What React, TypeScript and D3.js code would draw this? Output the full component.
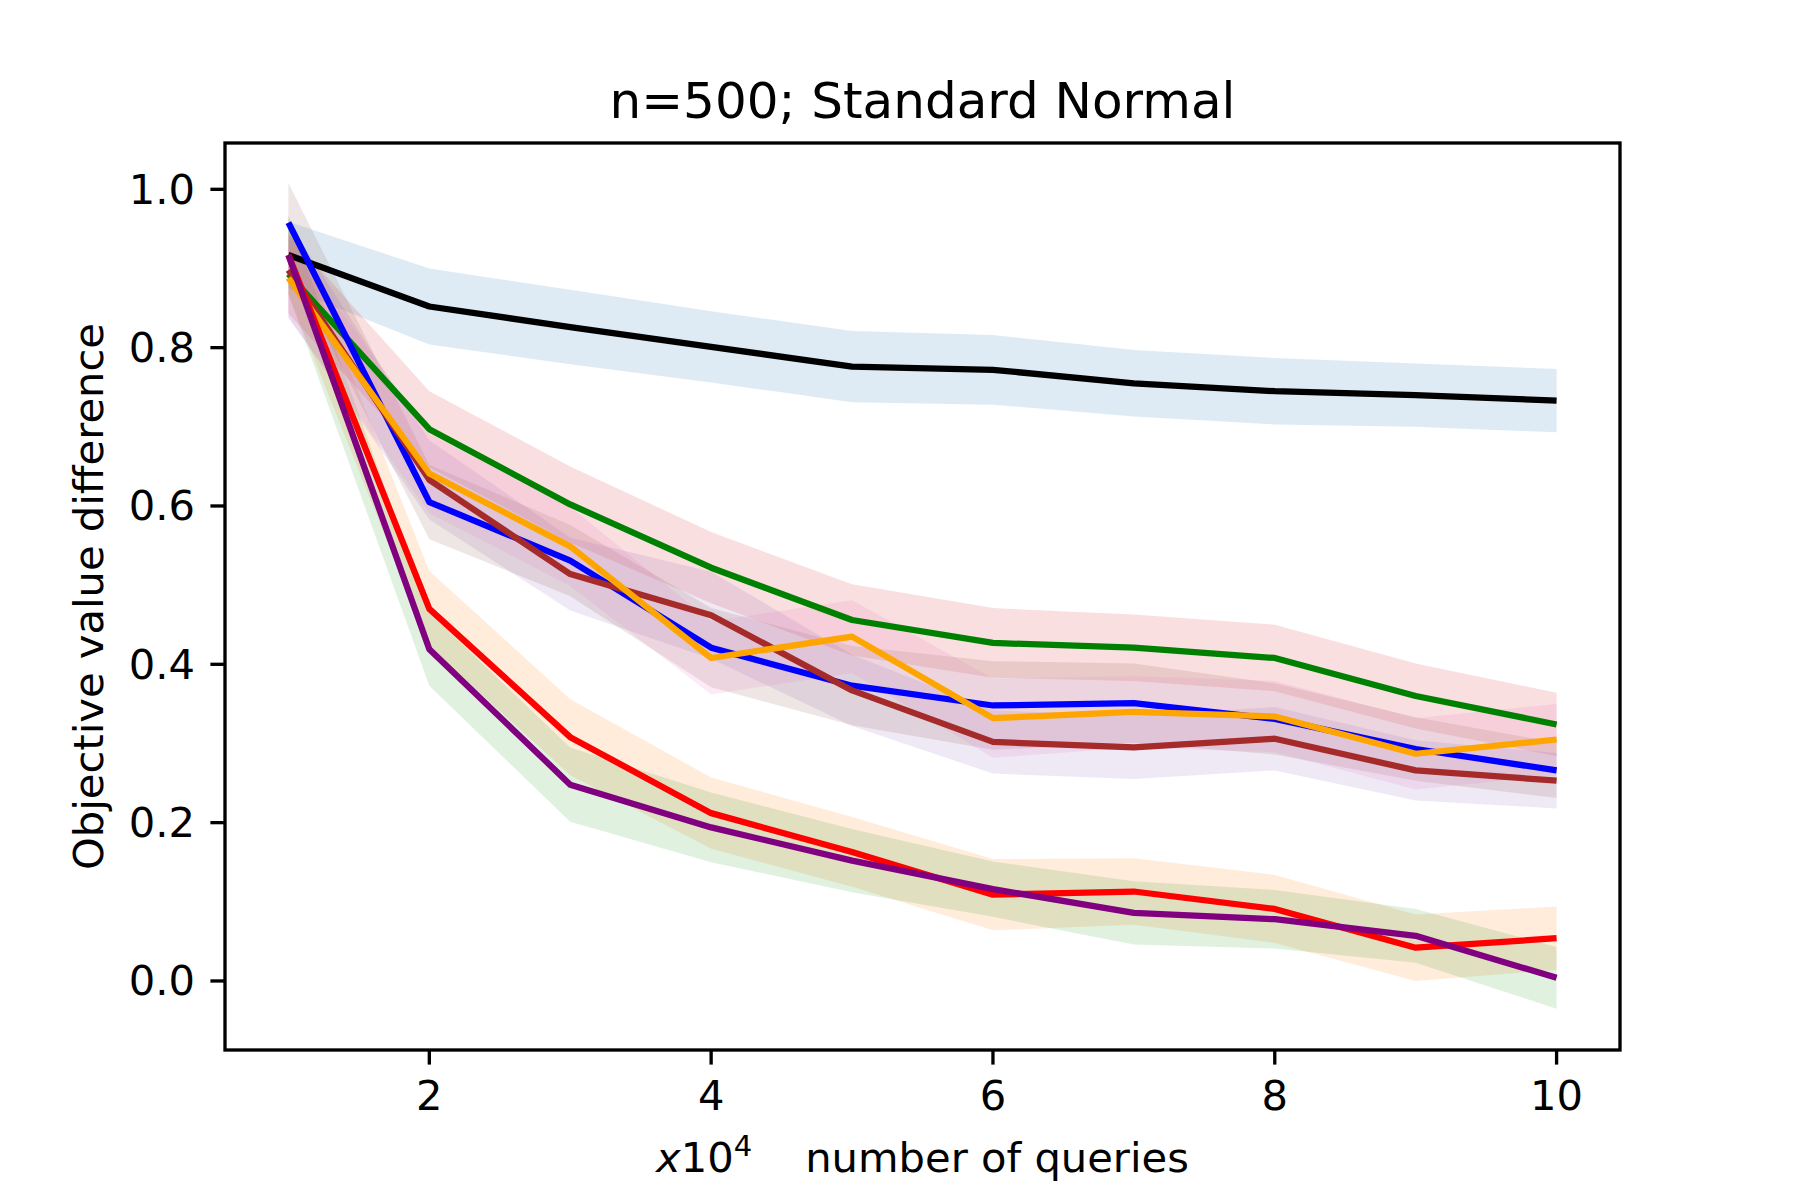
import React from "react"
import * as d3 from "d3"

const queries = [1, 2, 3, 4, 5, 6, 7, 8, 9, 10]

const blackMean = [0.917, 0.852, 0.826, 0.801, 0.776, 0.772, 0.755, 0.745, 0.74, 0.733]
const blackErr = [0.042, 0.048, 0.047, 0.045, 0.045, 0.044, 0.042, 0.042, 0.04, 0.04]
const greenMean = [0.893, 0.697, 0.602, 0.522, 0.456, 0.427, 0.421, 0.408, 0.36, 0.324]
const greenErr = [0.05, 0.048, 0.048, 0.045, 0.045, 0.044, 0.042, 0.042, 0.041, 0.04]
const blueMean = [0.958, 0.605, 0.531, 0.421, 0.373, 0.348, 0.351, 0.331, 0.293, 0.266]
const blueErr = [0.05, 0.047, 0.045, 0.05, 0.05, 0.056, 0.05, 0.045, 0.04, 0.035]
const brownMean = [0.898, 0.633, 0.514, 0.462, 0.367, 0.302, 0.295, 0.306, 0.266, 0.253]
const brownErr = [0.06, 0.05, 0.046, 0.055, 0.045, 0.04, 0.04, 0.04, 0.038, 0.035]
const orangeMean = [0.888, 0.641, 0.549, 0.408, 0.435, 0.332, 0.34, 0.334, 0.287, 0.305]
const orangeErr = [0.05, 0.05, 0.05, 0.046, 0.046, 0.05, 0.045, 0.045, 0.045, 0.045]
const redMean = [0.917, 0.47, 0.308, 0.212, 0.163, 0.109, 0.113, 0.091, 0.042, 0.054]
const redErr = [0.05, 0.048, 0.048, 0.045, 0.044, 0.045, 0.042, 0.043, 0.042, 0.04]
const purpleMean = [0.917, 0.419, 0.248, 0.194, 0.152, 0.116, 0.086, 0.078, 0.057, 0.004]
const purpleErr = [0.05, 0.046, 0.047, 0.044, 0.04, 0.035, 0.04, 0.037, 0.034, 0.039]

const xTicks = [2, 4, 6, 8, 10]
const yTicks = [0, 0.2, 0.4, 0.6, 0.8, 1.0]

type Series = { mean: number[]; err: number[]; line: string; band: string }

// drawing order matters: later lines sit on top
const series: Series[] = [
  { mean: blackMean, err: blackErr, line: "#000000", band: "#1f77b4" },
  { mean: redMean, err: redErr, line: "#ff0000", band: "#ff7f0e" },
  { mean: purpleMean, err: purpleErr, line: "#800080", band: "#2ca02c" },
  { mean: greenMean, err: greenErr, line: "#008000", band: "#d62728" },
  { mean: brownMean, err: brownErr, line: "#a52a2a", band: "#9467bd" },
  { mean: blueMean, err: blueErr, line: "#0000ff", band: "#8c564b" },
  { mean: orangeMean, err: orangeErr, line: "#ffa500", band: "#e377c2" },
]
const lineOrder = [0, 3, 5, 4, 6, 1, 2]

const W = 1800
const H = 1200
const m = { left: 225, right: 1620, top: 143, bottom: 1050 }
const font = "'DejaVu Sans', sans-serif"
const tickFs = 41.67
const sw = 3.33

export default function App() {
  const x = d3.scaleLinear().domain([0.55, 10.45]).range([m.left, m.right])
  const y = d3.scaleLinear().domain([-0.0872, 1.0585]).range([m.bottom, m.top])

  const area = (s: Series) =>
    d3
      .area<number>()
      .x((_, i) => x(queries[i]))
      .y0((d, i) => y(d - s.err[i]))
      .y1((d, i) => y(d + s.err[i]))(s.mean) || ""
  const line = d3
    .line<number>()
    .x((_, i) => x(queries[i]))
    .y((d) => y(d))

  const cx = (m.left + m.right) / 2
  const cy = (m.top + m.bottom) / 2

  return (
    <svg
      width={W}
      height={H}
      style={{ position: "fixed", left: 0, top: 0, background: "#fff" }}
      fontFamily={font}
    >
      <rect x={0} y={0} width={W} height={H} fill="#fff" />
      <defs>
        <clipPath id="plot">
          <rect x={m.left} y={m.top} width={m.right - m.left} height={m.bottom - m.top} />
        </clipPath>
      </defs>
      <g clipPath="url(#plot)">
        {series.map((s, i) => (
          <path key={"b" + i} d={area(s)} fill={s.band} fillOpacity={0.15} stroke="none" />
        ))}
        {lineOrder.map((k) => (
          <path
            key={"l" + k}
            d={line(series[k].mean) || ""}
            fill="none"
            stroke={series[k].line}
            strokeWidth={6.25}
            strokeLinejoin="round"
            strokeLinecap="butt"
          />
        ))}
      </g>
      <rect
        x={m.left}
        y={m.top}
        width={m.right - m.left}
        height={m.bottom - m.top}
        fill="none"
        stroke="#000"
        strokeWidth={sw}
      />
      {xTicks.map((t) => (
        <g key={"x" + t}>
          <line x1={x(t)} x2={x(t)} y1={m.bottom} y2={m.bottom + 14.6} stroke="#000" strokeWidth={sw} />
          <text x={x(t)} y={1110} textAnchor="middle" fontSize={tickFs} fill="#000">
            {t}
          </text>
        </g>
      ))}
      {yTicks.map((t) => (
        <g key={"y" + t}>
          <line x1={m.left - 14.6} x2={m.left} y1={y(t)} y2={y(t)} stroke="#000" strokeWidth={sw} />
          <text
            x={m.left - 30}
            y={y(t)}
            textAnchor="end"
            dominantBaseline="central"
            fontSize={tickFs}
            fill="#000"
          >
            {t.toFixed(1)}
          </text>
        </g>
      ))}
      <text x={cx} y={118} textAnchor="middle" fontSize={50} fill="#000">
        n=500; Standard Normal
      </text>
      <text x={cx} y={1172} textAnchor="middle" fontSize={tickFs} fill="#000" style={{ whiteSpace: "pre" }}>
        <tspan fontStyle="italic">x</tspan>
        <tspan>10</tspan>
        <tspan fontSize={29} dy={-16}>4</tspan>
        <tspan dy={16}>{"    number of queries"}</tspan>
      </text>
      <text
        transform={`translate(103,${cy}) rotate(-90)`}
        textAnchor="middle"
        fontSize={tickFs}
        fill="#000"
      >
        Objective value difference
      </text>
    </svg>
  )
}
